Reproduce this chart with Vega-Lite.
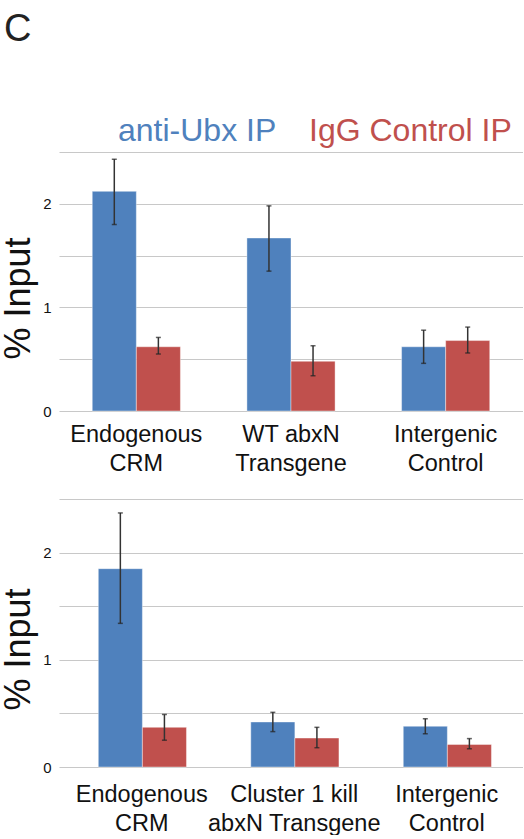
{
  "$schema": "https://vega.github.io/schema/vega-lite/v6.json",
  "padding": {"left": 0, "top": 11, "right": 0, "bottom": 0},
  "background": "white",
  "config": {
    "view": {"stroke": null},
    "font": "Liberation Sans",
    "axis": {"labelFont": "Liberation Sans", "titleFont": "Liberation Sans"},
    "legend": {"labelFont": "Liberation Sans"}
  },
  "title": {"text": "C", "anchor": "start", "fontSize": 38, "fontWeight": "normal", "font": "Liberation Sans", "color": "#222", "offset": 66, "dx": 4},
  "spacing": 24,
  "resolve": {"scale": {"color": "independent", "y": "independent", "x": "independent"}, "legend": {"color": "independent"}},
  "vconcat": [
    {
      "width": 464,
      "height": 259,
      "data": {"values": [
        {"group": "Endogenous|CRM", "series": "anti-Ubx IP", "value": 2.12, "lo": 1.80, "hi": 2.43},
        {"group": "Endogenous|CRM", "series": "IgG Control IP", "value": 0.62, "lo": 0.55, "hi": 0.71},
        {"group": "WT abxN|Transgene", "series": "anti-Ubx IP", "value": 1.67, "lo": 1.35, "hi": 1.98},
        {"group": "WT abxN|Transgene", "series": "IgG Control IP", "value": 0.48, "lo": 0.34, "hi": 0.63},
        {"group": "Intergenic|Control", "series": "anti-Ubx IP", "value": 0.62, "lo": 0.46, "hi": 0.78},
        {"group": "Intergenic|Control", "series": "IgG Control IP", "value": 0.68, "lo": 0.56, "hi": 0.81}
      ]},
      "encoding": {
        "x": {"field": "group", "type": "nominal", "sort": null,
          "scale": {"paddingInner": 0.43, "paddingOuter": 0.215},
          "axis": {"title": null, "labelAngle": 0, "domain": false, "ticks": false, "grid": false,
            "labelExpr": "split(datum.label, '|')", "labelFontSize": 23.5, "labelColor": "#111",
            "labelLineHeight": 29.5, "labelPadding": 11, "labelLimit": 400}},
        "xOffset": {"field": "series", "type": "nominal", "sort": ["anti-Ubx IP", "IgG Control IP"]}
      },
      "layer": [
        {
          "mark": {"type": "bar", "stroke": "#ffffff", "strokeOpacity": 0.4, "strokeWidth": 1},
          "encoding": {
            "y": {"field": "value", "type": "quantitative", "scale": {"domain": [0, 2.5], "nice": false},
              "axis": {"values": [0, 0.5, 1, 1.5, 2, 2.5], "labelExpr": "datum.value % 1 === 0 && datum.value < 2.5 ? '' + datum.value : ''",
                "domain": false, "ticks": false, "gridColor": "#c8c8c8", "gridWidth": 1.2,
                "labelFontSize": 15, "labelColor": "#111", "labelPadding": 8,
                "title": "% Input", "titleFontSize": 36, "titleFontWeight": "normal", "titleColor": "#111",
                "titleAngle": 270, "titleBaseline": "alphabetic", "titleAlign": "center", "titleX": -30, "titleY": 146}},
            "color": {"field": "series", "type": "nominal", "sort": ["anti-Ubx IP", "IgG Control IP"],
              "scale": {"domain": ["anti-Ubx IP", "IgG Control IP"], "range": ["#4f81bd", "#c0504d"]},
              "legend": {"title": null, "orient": "none", "direction": "horizontal", "legendX": 27, "legendY": -37,
                "symbolSize": 0, "symbolStrokeWidth": 0, "symbolOpacity": 0, "labelOffset": 0, "columnPadding": -5,
                "labelFontSize": 32, "labelLimit": 400,
                "labelColor": {"expr": "datum.value === 'anti-Ubx IP' ? '#4f81bd' : '#c0504d'"}}}
          }
        },
        {
          "mark": {"type": "rule", "color": "#333333", "strokeWidth": 1.5},
          "encoding": {"y": {"field": "lo", "type": "quantitative"}, "y2": {"field": "hi"}}
        },
        {
          "mark": {"type": "tick", "color": "#222222", "size": 5, "thickness": 1.5},
          "encoding": {"y": {"field": "lo", "type": "quantitative"}}
        },
        {
          "mark": {"type": "tick", "color": "#222222", "size": 5, "thickness": 1.5},
          "encoding": {"y": {"field": "hi", "type": "quantitative"}}
        }
      ]
    },
    {
      "width": 464,
      "height": 268,
      "data": {"values": [
        {"group": "Endogenous|CRM", "series": "anti-Ubx IP", "value": 1.85, "lo": 1.34, "hi": 2.37},
        {"group": "Endogenous|CRM", "series": "IgG Control IP", "value": 0.37, "lo": 0.25, "hi": 0.49},
        {"group": "Cluster 1 kill|abxN Transgene", "series": "anti-Ubx IP", "value": 0.42, "lo": 0.33, "hi": 0.51},
        {"group": "Cluster 1 kill|abxN Transgene", "series": "IgG Control IP", "value": 0.27, "lo": 0.18, "hi": 0.37},
        {"group": "Intergenic|Control", "series": "anti-Ubx IP", "value": 0.38, "lo": 0.31, "hi": 0.45},
        {"group": "Intergenic|Control", "series": "IgG Control IP", "value": 0.21, "lo": 0.17, "hi": 0.265}
      ]},
      "encoding": {
        "x": {"field": "group", "type": "nominal", "sort": null,
          "scale": {"paddingInner": 0.43, "paddingOuter": 0.2365, "align": 0.545},
          "axis": {"title": null, "labelAngle": 0, "domain": false, "ticks": false, "grid": false,
            "labelExpr": "split(datum.label, '|')", "labelFontSize": 23.5, "labelColor": "#111",
            "labelLineHeight": 29.5, "labelPadding": 15, "labelLimit": 400}},
        "xOffset": {"field": "series", "type": "nominal", "sort": ["anti-Ubx IP", "IgG Control IP"]}
      },
      "layer": [
        {
          "mark": {"type": "bar", "stroke": "#ffffff", "strokeOpacity": 0.4, "strokeWidth": 1},
          "encoding": {
            "y": {"field": "value", "type": "quantitative", "scale": {"domain": [0, 2.5], "nice": false},
              "axis": {"values": [0, 0.5, 1, 1.5, 2, 2.5], "labelExpr": "datum.value % 1 === 0 && datum.value < 2.5 ? '' + datum.value : ''",
                "domain": false, "ticks": false, "gridColor": "#c8c8c8", "gridWidth": 1.2,
                "labelFontSize": 15, "labelColor": "#111", "labelPadding": 8,
                "title": "% Input", "titleFontSize": 36, "titleFontWeight": "normal", "titleColor": "#111",
                "titleAngle": 270, "titleBaseline": "alphabetic", "titleAlign": "center", "titleX": -30, "titleY": 150}},
            "color": {"field": "series", "type": "nominal",
              "scale": {"domain": ["anti-Ubx IP", "IgG Control IP"], "range": ["#4f81bd", "#c0504d"]},
              "legend": null}
          }
        },
        {
          "mark": {"type": "rule", "color": "#333333", "strokeWidth": 1.5},
          "encoding": {"y": {"field": "lo", "type": "quantitative"}, "y2": {"field": "hi"}}
        },
        {
          "mark": {"type": "tick", "color": "#222222", "size": 5, "thickness": 1.5},
          "encoding": {"y": {"field": "lo", "type": "quantitative"}}
        },
        {
          "mark": {"type": "tick", "color": "#222222", "size": 5, "thickness": 1.5},
          "encoding": {"y": {"field": "hi", "type": "quantitative"}}
        }
      ]
    }
  ]
}
